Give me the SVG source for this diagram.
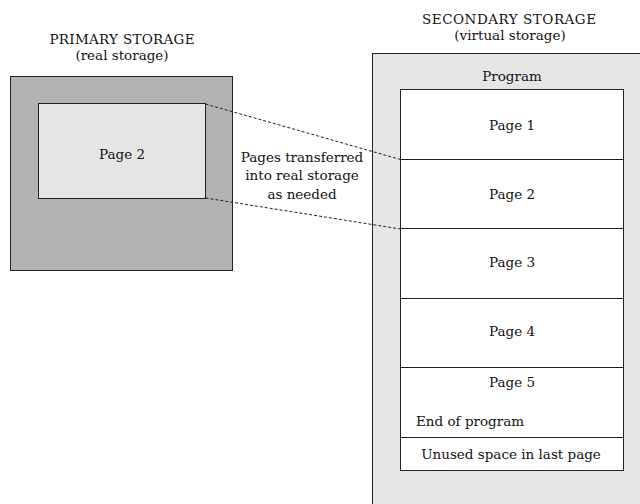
<svg xmlns="http://www.w3.org/2000/svg" width="640" height="504" viewBox="0 0 640 504">
  <style>
    text { font-family: "DejaVu Serif", "Liberation Serif", serif; font-size: 13.5px; fill: #111; }
    .mid { text-anchor: middle; }
    .box { stroke: #222; stroke-width: 1; }
    .dash { stroke: #222; stroke-width: 1; stroke-dasharray: 3 2; fill: none; }
  </style>
  <rect width="640" height="504" fill="#fff"/>

  <g id="primary-storage">
    <text class="mid" x="122" y="44" textLength="145">PRIMARY STORAGE</text>
    <text class="mid" x="122" y="60">(real storage)</text>
    <rect class="box" x="10.5" y="76.5" width="222" height="194" fill="#b3b3b3"/>
  </g>

  <g id="primary-page-2">
    <rect class="box" x="38.5" y="103.5" width="167" height="95" fill="#e6e6e6"/>
    <text class="mid" x="122" y="159">Page 2</text>
  </g>

  <g id="secondary-storage">
    <text class="mid" x="509" y="24" textLength="174">SECONDARY STORAGE</text>
    <text class="mid" x="510" y="40">(virtual storage)</text>
    <rect class="box" x="372.5" y="53.5" width="280" height="460" fill="#e6e6e6"/>
    <text class="mid" x="512" y="81">Program</text>
  </g>

  <g id="page-1">
    <rect class="box" x="400.5" y="89.5" width="223" height="70" fill="#fff"/>
    <text class="mid" x="512" y="130">Page 1</text>
  </g>
  <g id="page-2">
    <rect class="box" x="400.5" y="159.5" width="223" height="69" fill="#fff"/>
    <text class="mid" x="512" y="199">Page 2</text>
  </g>
  <g id="page-3">
    <rect class="box" x="400.5" y="228.5" width="223" height="70" fill="#fff"/>
    <text class="mid" x="512" y="267">Page 3</text>
  </g>
  <g id="page-4">
    <rect class="box" x="400.5" y="298.5" width="223" height="69" fill="#fff"/>
    <text class="mid" x="512" y="336">Page 4</text>
  </g>
  <g id="page-5">
    <rect class="box" x="400.5" y="367.5" width="223" height="70" fill="#fff"/>
    <text class="mid" x="512" y="387">Page 5</text>
    <text x="416" y="426">End of program</text>
  </g>
  <g id="unused-space">
    <rect class="box" x="400.5" y="437.5" width="223" height="33" fill="#fff"/>
    <text class="mid" x="511" y="459">Unused space in last page</text>
  </g>

  <g id="connectors">
    <line class="dash" x1="205.5" y1="104" x2="400.5" y2="159.5"/>
    <line class="dash" x1="205.5" y1="198" x2="400.5" y2="229"/>
  </g>

  <g id="transfer-label">
    <text class="mid" x="302" y="162">Pages transferred</text>
    <text class="mid" x="302" y="180">into real storage</text>
    <text class="mid" x="302" y="199">as needed</text>
  </g>
</svg>
